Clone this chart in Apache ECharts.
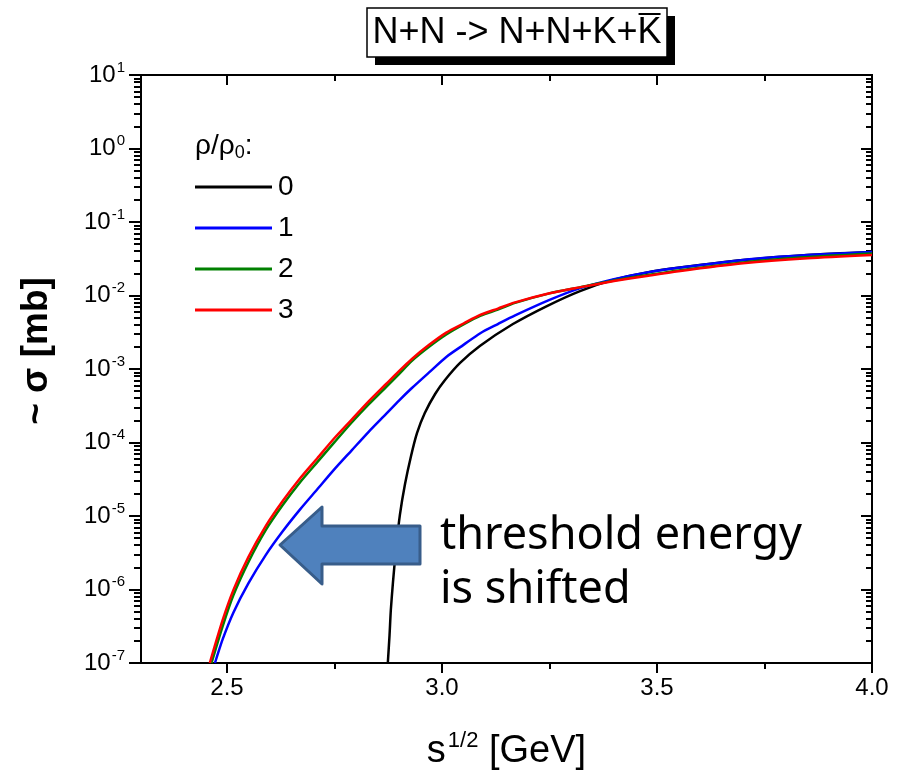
<!DOCTYPE html>
<html>
<head>
<meta charset="utf-8">
<script src="https://cdn.jsdelivr.net/npm/echarts@6/dist/echarts.min.js"></script>
<style>
  html, body { margin: 0; padding: 0; background: #ffffff; }
  #chart { width: 907px; height: 772px; }
</style>
</head>
<body>
<div id="chart"></div>
<script>
// Cross sections for N+N -> N+N+K+Kbar at several densities rho/rho0
const densityNames = ['0', '1', '2', '3'];
const lineColors = ['#000000', '#0000ff', '#008000', '#ff0000'];

const energyRho0 = [2.874, 2.878, 2.881, 2.886, 2.893, 2.902, 2.914, 2.928, 2.942, 2.96, 2.984, 3.007, 3.042, 3.088, 3.165, 3.244, 3.321, 3.398, 3.477, 3.553, 3.70, 3.849, 4.00];
const sigmaRho0 = [1.0e-7, 2.40e-7, 5.26e-7, 1.26e-6, 3.56e-6, 1.03e-5, 2.72e-5, 6.55e-5, 1.35e-4, 2.52e-4, 4.57e-4, 7.08e-4, 1.21e-3, 2.06e-3, 4.09e-3, 7.19e-3, 1.15e-2, 1.63e-2, 2.06e-2, 2.40e-2, 3.04e-2, 3.56e-2, 3.91e-2];

const energyRho1 = [2.472, 2.49, 2.515, 2.55, 2.59, 2.63, 2.67, 2.71, 2.75, 2.79, 2.83, 2.87, 2.90, 2.93, 2.97, 3.01, 3.05, 3.09, 3.13, 3.17, 3.25, 3.32, 3.40, 3.48, 3.55, 3.70, 3.85, 4.00];
const sigmaRho1 = [1.0e-7, 2.11e-7, 4.88e-7, 1.22e-6, 2.94e-6, 6.24e-6, 1.23e-5, 2.31e-5, 4.34e-5, 7.83e-5, 1.41e-4, 2.45e-4, 3.72e-4, 5.51e-4, 8.99e-4, 1.46e-3, 2.13e-3, 3.09e-3, 4.09e-3, 5.36e-3, 8.71e-3, 1.25e-2, 1.67e-2, 2.08e-2, 2.38e-2, 3.05e-2, 3.55e-2, 3.91e-2];

const energyRho2 = [2.464, 2.49, 2.515, 2.55, 2.59, 2.63, 2.67, 2.71, 2.75, 2.79, 2.83, 2.87, 2.90, 2.93, 2.97, 3.01, 3.05, 3.09, 3.13, 3.17, 3.25, 3.32, 3.40, 3.48, 3.55, 3.70, 3.85, 4.00];
const sigmaRho2 = [1.0e-7, 3.18e-7, 8.41e-7, 2.38e-6, 6.43e-6, 1.42e-5, 2.88e-5, 5.40e-5, 1.01e-4, 1.87e-4, 3.32e-4, 5.69e-4, 8.53e-4, 1.29e-3, 2.00e-3, 2.94e-3, 4.03e-3, 5.31e-3, 6.43e-3, 7.93e-3, 1.07e-2, 1.29e-2, 1.60e-2, 1.90e-2, 2.19e-2, 2.82e-2, 3.33e-2, 3.72e-2];

const energyRho3 = [2.46, 2.49, 2.515, 2.55, 2.59, 2.63, 2.67, 2.71, 2.75, 2.79, 2.83, 2.87, 2.90, 2.93, 2.97, 3.01, 3.05, 3.09, 3.13, 3.17, 3.25, 3.32, 3.40, 3.48, 3.55, 3.70, 3.85, 4.00];
const sigmaRho3 = [1.0e-7, 3.85e-7, 9.88e-7, 2.78e-6, 7.29e-6, 1.61e-5, 3.26e-5, 6.11e-5, 1.15e-4, 2.05e-4, 3.65e-4, 6.25e-4, 9.35e-4, 1.37e-3, 2.13e-3, 3.13e-3, 4.16e-3, 5.48e-3, 6.64e-3, 8.05e-3, 1.07e-2, 1.29e-2, 1.57e-2, 1.86e-2, 2.14e-2, 2.74e-2, 3.21e-2, 3.56e-2];

// Axis ticks
const xMajorTicks = [2.5, 3.0, 3.5, 4.0];
const xMinorTicks = [2.75, 3.25, 3.75];
const yMajorTicks = [1e-7, 1e-6, 1e-5, 1e-4, 1e-3, 1e-2, 1e-1, 1e0, 1e1];
const yMinorMantissas = [2, 3, 4, 5, 6, 7, 8, 9];
const yMinorTicks = [];
yMajorTicks.slice(0, -1).forEach(function (d) {
  yMinorMantissas.forEach(function (m) { yMinorTicks.push(+(m * d).toPrecision(3)); });
});

const FONT = '"Liberation Sans", Arial, sans-serif';
const X_MIN = 2.3, X_MAX = 4.0, Y_MIN = 1e-7, Y_MAX = 10;

function pairs(xs, ys) { return xs.map(function (x, i) { return [x, ys[i]]; }); }

const frameLine = { show: true, onZero: false, lineStyle: { color: '#000', width: 2 } };

function xAxisDef(grid, pos, ticks, len, inside, labels) {
  return {
    gridIndex: grid, type: 'value', position: pos, min: X_MIN, max: X_MAX,
    axisLine: frameLine,
    axisTick: { show: true, customValues: ticks, length: len, inside: inside, lineStyle: { color: '#000', width: 2 } },
    axisLabel: labels ? {
      show: true, customValues: xMajorTicks, color: '#000', fontSize: 24, fontFamily: FONT, margin: 13,
      formatter: function (v) { return v.toFixed(1); }
    } : { show: false },
    splitLine: { show: false }
  };
}

function yAxisDef(grid, pos, ticks, len, inside, labels) {
  return {
    gridIndex: grid, type: 'log', logBase: 10, position: pos, min: Y_MIN, max: Y_MAX,
    axisLine: frameLine,
    axisTick: { show: true, customValues: ticks, length: len, inside: inside, lineStyle: { color: '#000', width: 2 } },
    axisLabel: labels ? {
      show: true, customValues: yMajorTicks, margin: 16,
      formatter: function (v) {
        const e = Math.round(Math.log10(v));
        return '{b|10}{s|' + e + '}';
      },
      rich: {
        b: { fontSize: 24, fontFamily: FONT, color: '#000' },
        s: { fontSize: 15, fontFamily: FONT, color: '#000', padding: [0, 0, 15, 1] }
      }
    } : { show: false },
    splitLine: { show: false }
  };
}

const chart = echarts.init(document.getElementById('chart'), null, { renderer: 'canvas' });

// position of the overbar on the last K of the reaction title
const TITLE_TEXT = 'N+N -> N+N+K+K';
const TITLE_FONT = '36px "Liberation Sans"';
const TITLE_CX = 517;
const mctx = document.createElement('canvas').getContext('2d');
mctx.font = TITLE_FONT;
const titleW = mctx.measureText(TITLE_TEXT).width;
const kW = mctx.measureText('K').width;
const titleRight = TITLE_CX + titleW / 2;

const seriesX = [energyRho0, energyRho1, energyRho2, energyRho3];
const seriesY = [sigmaRho0, sigmaRho1, sigmaRho2, sigmaRho3];

const gridBox = { left: 141, right: 35, top: 75, bottom: 109, containLabel: false, outerBoundsMode: 'none' };

const option = {
  backgroundColor: '#ffffff',
  animation: false,
  grid: [Object.assign({}, gridBox), Object.assign({}, gridBox)],
  xAxis: [
    Object.assign(xAxisDef(0, 'bottom', xMajorTicks, 10, false, true), {
      name: '{b|s}{s|1/2}{b| [GeV]}', nameLocation: 'middle', nameGap: 67,
      nameTextStyle: {
        rich: {
          b: { fontSize: 38, fontFamily: FONT, color: '#000' },
          s: { fontSize: 22, fontFamily: FONT, color: '#000', padding: [0, 0, 21, 2] }
        }
      }
    }),
    xAxisDef(0, 'top', xMajorTicks, 10, true, false),
    xAxisDef(1, 'bottom', xMinorTicks, 6, false, false),
    xAxisDef(1, 'top', xMinorTicks, 6, true, false)
  ],
  yAxis: [
    yAxisDef(0, 'left', yMajorTicks, 12, false, true),
    yAxisDef(0, 'right', yMajorTicks, 11, true, false),
    yAxisDef(1, 'left', yMinorTicks, 7, false, false),
    yAxisDef(1, 'right', yMinorTicks, 6, true, false)
  ],
  legend: {
    orient: 'vertical', left: 195, top: 173, itemGap: 13, padding: 0,
    icon: 'rect', itemWidth: 77, itemHeight: 3,
    textStyle: { fontSize: 28, fontFamily: FONT, color: '#000', padding: [0, 0, 0, 1] },
    data: densityNames
  },
  series: densityNames.map(function (name, i) {
    return {
      name: name, type: 'line', xAxisIndex: 0, yAxisIndex: 0,
      data: pairs(seriesX[i], seriesY[i]),
      symbol: 'none', showSymbol: false, smooth: 0.25,
      clip: true, z: 2 + i,
      lineStyle: { color: lineColors[i], width: 2.5 },
      itemStyle: { color: lineColors[i] }
    };
  }),
  graphic: [
    // reaction title with drop shadow
    { type: 'rect', shape: { x: 375, y: 16, width: 300, height: 49 }, style: { fill: '#000' }, z: 10 },
    { type: 'rect', shape: { x: 367, y: 8, width: 300, height: 49 }, style: { fill: '#fff', stroke: '#000', lineWidth: 1.5 }, z: 11 },
    { type: 'text', x: TITLE_CX, y: 33, z: 12,
      style: { text: TITLE_TEXT, font: TITLE_FONT, fill: '#000', align: 'center', verticalAlign: 'middle' } },
    { type: 'line', z: 12, shape: { x1: titleRight - kW + 1, y1: 14, x2: titleRight - 1, y2: 14 },
      style: { stroke: '#000', lineWidth: 2 } },
    // legend heading
    { type: 'text', x: 195, y: 146, z: 12,
      style: {
        text: '{a|ρ/ρ}{b|0}{a|:}', verticalAlign: 'middle',
        rich: {
          a: { fontSize: 28, fontFamily: FONT, fill: '#000' },
          b: { fontSize: 18, fontFamily: FONT, fill: '#000', padding: [14, 0, 0, 0] }
        }
      } },
    // y-axis title
    { type: 'text', x: 37, y: 351, rotation: Math.PI / 2, z: 12,
      style: { text: '~ σ [mb]', font: 'bold 37px ' + FONT, fill: '#000', align: 'center', verticalAlign: 'middle' } },
    // arrow indicating the threshold shift
    { type: 'polygon', z: 12,
      shape: { points: [[280, 545], [322, 507], [322, 526], [420, 526], [420, 564], [322, 564], [322, 584]] },
      style: { fill: '#4f81bd', stroke: '#385d8a', lineWidth: 3, lineJoin: 'round' } },
    { type: 'text', x: 440, y: 536, z: 12,
      style: { text: 'threshold energy', font: '45px "Noto Sans"', fill: '#000', align: 'left', verticalAlign: 'middle' } },
    { type: 'text', x: 440, y: 590, z: 12,
      style: { text: 'is shifted', font: '45px "Noto Sans"', fill: '#000', align: 'left', verticalAlign: 'middle' } }
  ]
};

chart.setOption(option);
</script>
</body>
</html>
